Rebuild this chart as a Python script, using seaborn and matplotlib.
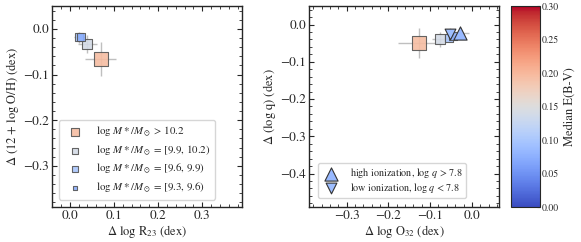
import numpy as np
import pandas as pd
import matplotlib
matplotlib.use('Agg')
import matplotlib.pyplot as plt
import seaborn as sns

# mass bins (left panel + squares in right panel)
mass_labels = [r'log $M*/M_\odot$ > 10.2', r'log $M*/M_\odot$ = [9.9, 10.2)',
               r'log $M*/M_\odot$ = [9.6, 9.9)', r'log $M*/M_\odot$ = [9.3, 9.6)']
mass_ebv = [0.195, 0.14, 0.10, 0.075]
d_r23 = [0.070, 0.040, 0.022, 0.025]
d_r23_err = [0.035, 0.022, 0.012, 0.008]
d_oh = [-0.066, -0.033, -0.018, -0.017]
d_oh_err = [0.037, 0.02, 0.012, 0.006]

d_o32 = [-0.127, -0.076, -0.055, -0.045]
d_o32_err = [0.05, 0.02, 0.012, 0.008]
d_q = [-0.049, -0.039, -0.036, -0.030]
d_q_err = [0.04, 0.02, 0.012, 0.008]

# ionization bins
ion_labels = [r'high ionization, log $q$ > 7.8', r'low ionization, log $q$ < 7.8']
ion_ebv = [0.085, 0.09]
ion_o32 = [-0.028, -0.053]
ion_o32_err = [0.02, 0.01]
ion_q = [-0.022, -0.024]
ion_q_err = [0.008, 0.015]

sq_sizes = [90, 60, 40, 28]

sns.set_style('ticks')
plt.rcParams['font.family'] = ['STIXGeneral', 'DejaVu Serif']
plt.rcParams['mathtext.fontset'] = 'stix'
plt.rcParams['xtick.direction'] = 'in'
plt.rcParams['ytick.direction'] = 'in'

cmap = plt.get_cmap('coolwarm')
norm = plt.Normalize(0, 0.3)

fig = plt.figure(figsize=(5.81, 2.42), dpi=100)
ax1 = fig.add_axes([52/581, 35/242, 190/581, 201/242])
ax2 = fig.add_axes([309/581, 35/242, 190/581, 201/242])
cax = fig.add_axes([511/581, 35/242, 29/581, 201/242])

df_m = pd.DataFrame({'r23': d_r23, 'oh': d_oh, 'o32': d_o32, 'q': d_q,
                     'ebv': mass_ebv, 'label': mass_labels, 'size': sq_sizes})

for i, row in df_m.iterrows():
    c = cmap(norm(row['ebv']))
    ax1.errorbar(row['r23'], row['oh'], xerr=d_r23_err[i], yerr=d_oh_err[i],
                 fmt='none', ecolor='gray', alpha=0.5, lw=1, zorder=1)
    ax2.errorbar(row['o32'], row['q'], xerr=d_o32_err[i], yerr=d_q_err[i],
                 fmt='none', ecolor='gray', alpha=0.5, lw=1, zorder=1)
    sns.scatterplot(x=[row['r23']], y=[row['oh']], ax=ax1, marker='s', s=row['size'],
                    color=c, edgecolor='#555555', linewidth=0.8, alpha=0.9,
                    label=row['label'], zorder=3 + i)
    sns.scatterplot(x=[row['o32']], y=[row['q']], ax=ax2, marker='s', s=row['size'],
                    color=c, edgecolor='#555555', linewidth=0.8, alpha=0.9, zorder=3 + i,
                    legend=False)

ion_markers = ['^', 'v']
for i in range(2):
    c = cmap(norm(ion_ebv[i]))
    ax2.errorbar(ion_o32[i], ion_q[i], xerr=ion_o32_err[i], yerr=ion_q_err[i],
                 fmt='none', ecolor='gray', alpha=0.5, lw=1, zorder=2)
    sns.scatterplot(x=[ion_o32[i]], y=[ion_q[i]], ax=ax2, marker=ion_markers[i],
                    s=[90, 60][i], color=c, edgecolor='#333333', linewidth=0.8,
                    label=ion_labels[i], zorder=10)

ax1.set_xlim(-0.04, 0.39)
ax1.set_ylim(-0.39, 0.05)
ax1.set_xticks([0.0, 0.1, 0.2, 0.3])
ax1.set_yticks([0.0, -0.1, -0.2, -0.3])
ax1.set_xlabel(r'$\Delta$ log R$_{23}$ (dex)', fontsize=9, labelpad=1)
ax1.set_ylabel(r'$\Delta$ (12 + log O/H) (dex)', fontsize=9, labelpad=2)
ax1.legend(loc='lower left', fontsize=7.8, frameon=True, handletextpad=0.9,
           borderpad=0.45, labelspacing=0.4, markerscale=0.6,
           bbox_to_anchor=(0.01, 0.01))

ax2.set_xlim(-0.39, 0.065)
ax2.set_ylim(-0.49, 0.05)
ax2.set_xticks([-0.3, -0.2, -0.1, 0.0])
ax2.set_yticks([0.0, -0.1, -0.2, -0.3, -0.4])
ax2.set_xlabel(r'$\Delta$ log O$_{32}$ (dex)', fontsize=9, labelpad=1)
ax2.set_ylabel(r'$\Delta$ (log q) (dex)', fontsize=9, labelpad=2)
ax2.legend(loc='lower left', fontsize=7.3, frameon=True, handletextpad=0.9,
           borderpad=0.3, labelspacing=0.05, markerscale=1.0,
           bbox_to_anchor=(0.02, 0.02))

for ax in [ax1, ax2]:
    ax.minorticks_on()
    ax.tick_params(which='both', top=True, right=True, labelsize=9.5, pad=2)
    ax.tick_params(which='major', length=3.5, width=0.8)
    ax.tick_params(which='minor', length=2, width=0.6)
    for s in ax.spines.values():
        s.set_linewidth(1.0)

sm = plt.cm.ScalarMappable(cmap=cmap, norm=norm)
cb = fig.colorbar(sm, cax=cax)
cb.set_ticks([0.0, 0.05, 0.10, 0.15, 0.20, 0.25, 0.30])
cb.ax.tick_params(labelsize=7, direction='in', length=2.5, pad=1.5)
cb.ax.minorticks_on()
cb.set_label('Median E(B-V)', fontsize=9, labelpad=3)

fig.savefig('out.png', dpi=100)
